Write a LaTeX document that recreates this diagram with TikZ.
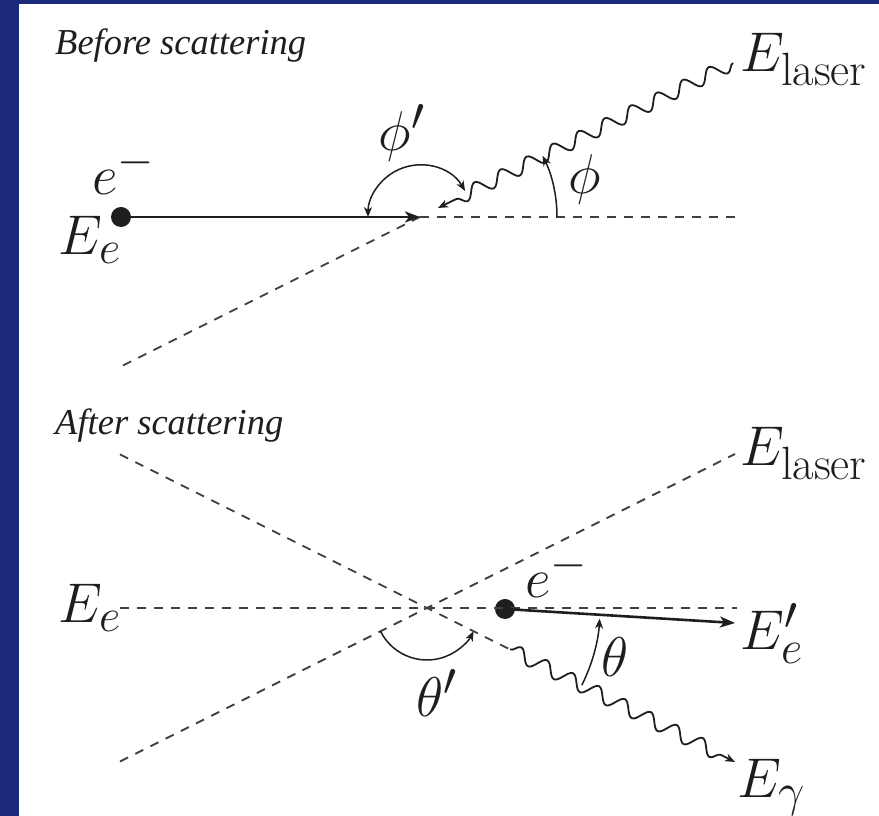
\documentclass[tikz,border=0pt]{standalone}
\usepackage{fontspec}
\newfontfamily\timesit{Liberation Serif}
\usetikzlibrary{arrows.meta,decorations.pathmorphing}
\definecolor{navy}{RGB}{27,42,122}
\definecolor{ink}{RGB}{30,30,30}
\begin{document}
\begin{tikzpicture}[x=1pt,y=1pt,
  lbl/.style={inner sep=0pt,text=ink,font=\fontsize{24.88}{28}\selectfont,scale=2.25,transform shape},
  ttl/.style={inner sep=0pt,anchor=base west,text=ink,font=\timesit\itshape\fontsize{36.5}{40}\selectfont},
  dsh/.style={draw=ink!85,line width=1.8pt,dash pattern=on 9pt off 8pt},
  elec/.style={draw=ink,line width=2.6pt,-{Stealth[length=15pt,width=11pt,inset=4pt]}},
  ang/.style={draw=ink,line width=1.5pt},
  tip/.style={-{Stealth[length=10pt,width=8pt,inset=3pt]}},
  wave/.style={draw=ink,line width=1.8pt,decorate,decoration={snake,amplitude=7pt,segment length=29pt,post length=8pt},-{Stealth[length=10pt,width=8pt,inset=3pt]}},
  dot/.style={circle,fill=ink,inner sep=0pt,minimum size=20pt}]
\fill[white] (0,0) rectangle (879,816);
\fill[navy] (0,0) rectangle (19,816);
\fill[navy] (0,812) rectangle (879,816);
\useasboundingbox (0,0) rectangle (879,816);

% ---------- Before scattering ----------
\node[ttl] (t1) at (55,761) {Before scattering};
\coordinate (C1) at (420,599);
\coordinate (H1) at (737,599);
\coordinate (S1) at (120,449);
\coordinate (L1) at (733,753);
\coordinate (W1) at (438,608);
\node[dot] (d1) at (121,599) {};
\draw[dsh] (C1) -- (H1);
\draw[dsh] (C1) -- (S1);
\draw[elec] (d1.center) -- (C1);
\draw[wave] (L1) -- (W1);
\draw[ang,tip] ([shift={(0:137)}]C1) arc[start angle=0,end angle=26.5,radius=137];
\draw[ang,{Stealth[length=10pt,width=8pt,inset=3pt]}-{Stealth[length=10pt,width=8pt,inset=3pt]}] ([shift={(30:52)}]C1) arc[start angle=30,end angle=180,radius=52];
\node[lbl,anchor=base west] (ee1) at (58,561) {$E_e$};
\node[lbl,anchor=base west] (em1) at (92,621) {$e^-$};
\node[lbl,anchor=base west] (el1) at (740,744) {$E_{\mathrm{laser}}$};
\node[lbl] (phi) at (585,636) {$\phi$};
\node[lbl] (phip) at (402,683) {$\phi'$};

% ---------- After scattering ----------
\node[ttl] (t2) at (55,381) {After scattering};
\coordinate (C2) at (427,208);
\coordinate (HL) at (120,208);
\coordinate (HR) at (737,208);
\coordinate (NW) at (120,361.5);
\coordinate (G0) at (510,166.5);
\coordinate (SW) at (120,54.5);
\coordinate (NE) at (735,362);
\coordinate (G1) at (735,54);
\coordinate (EP) at (735,193);
\node[dot] (d2) at (505,207) {};
\draw[dsh] (HL) -- (HR);
\draw[dsh] (NW) -- (G0);
\draw[dsh] (SW) -- (NE);
\draw[elec] (d2.center) -- (EP);
\draw[wave] (G0) -- (G1);
\draw[ang,tip] ([shift={(-26.5:173)}]C2) arc[start angle=-26.5,end angle=-3.5,radius=173];
\draw[ang,tip] ([shift={(206.5:52)}]C2) arc[start angle=206.5,end angle=333.5,radius=52];
\node[lbl,anchor=base west] (ee2) at (58,193) {$E_e$};
\node[lbl,anchor=base west] (em2) at (525,218) {$e^-$};
\node[lbl,anchor=base west] (el2) at (740,350) {$E_{\mathrm{laser}}$};
\node[lbl,anchor=base west] (eep) at (740,166) {$E'_e$};
\node[lbl] (th) at (615,159) {$\theta$};
\node[lbl] (thp) at (437,123) {$\theta'$};
\node[lbl,anchor=base west] (eg) at (737,18) {$E_\gamma$};
\end{tikzpicture}
\end{document}
